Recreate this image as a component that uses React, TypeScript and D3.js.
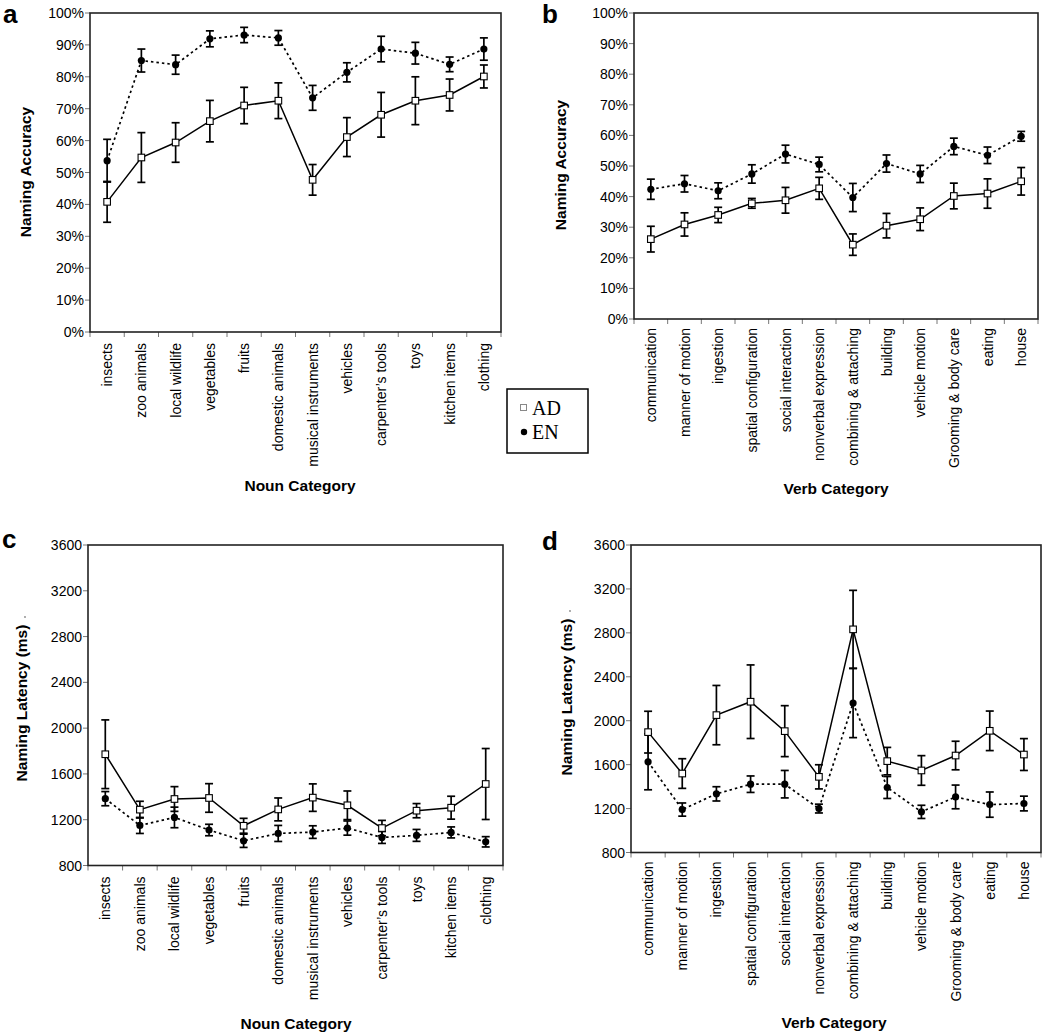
import React from "react";
import * as d3 from "d3";

const nounCats = ["insects", "zoo animals", "local wildlife", "vegetables", "fruits", "domestic animals", "musical instruments", "vehicles", "carpenter’s tools", "toys", "kitchen items", "clothing"];
const verbCats = ["communication", "manner of motion", "ingestion", "spatial configuration", "social interaction", "nonverbal expression", "combining & attaching", "building", "vehicle motion", "Grooming & body care", "eating", "house"];

const nounAccAD = [40.8, 54.7, 59.4, 66.1, 71.0, 72.5, 47.7, 61.1, 68.1, 72.5, 74.3, 80.1];
const nounAccADErr = [6.4, 7.8, 6.2, 6.5, 5.7, 5.6, 4.8, 6.1, 7.0, 7.5, 5.0, 3.6];
const nounAccEN = [53.7, 85.1, 83.8, 91.9, 93.1, 92.2, 73.4, 81.4, 88.7, 87.4, 83.9, 88.7];
const nounAccENErr = [6.7, 3.6, 3.0, 2.5, 2.4, 2.3, 3.9, 3.0, 4.0, 3.4, 2.3, 3.5];

const verbAccAD = [26.1, 30.9, 34.0, 37.8, 38.8, 42.7, 24.3, 30.5, 32.6, 40.2, 41.0, 45.0];
const verbAccADErr = [4.2, 3.8, 2.5, 1.6, 4.2, 3.6, 3.5, 4.0, 3.7, 4.2, 4.8, 4.5];
const verbAccEN = [42.4, 44.2, 41.9, 47.4, 53.9, 50.5, 39.7, 50.8, 47.4, 56.4, 53.5, 59.7];
const verbAccENErr = [3.3, 2.7, 2.6, 3.0, 2.9, 2.4, 4.6, 2.8, 2.8, 2.7, 2.7, 1.6];

const nounLatAD = [1772, 1288, 1381, 1390, 1147, 1290, 1393, 1326, 1127, 1279, 1305, 1512];
const nounLatADErr = [300, 73, 108, 125, 65, 100, 120, 125, 67, 62, 100, 310];
const nounLatEN = [1384, 1150, 1220, 1110, 1016, 1080, 1092, 1127, 1045, 1063, 1089, 1007];
const nounLatENErr = [62, 70, 90, 50, 58, 70, 55, 62, 52, 52, 48, 45];

const verbLatAD = [1896, 1519, 2051, 2173, 1905, 1489, 2832, 1632, 1547, 1683, 1908, 1692];
const verbLatADErr = [190, 135, 270, 335, 232, 110, 355, 125, 135, 130, 180, 145];
const verbLatEN = [1626, 1191, 1334, 1422, 1422, 1200, 2161, 1392, 1170, 1306, 1236, 1246];
const verbLatENErr = [255, 60, 65, 75, 125, 40, 315, 100, 60, 108, 115, 67];

const accTicks = [0, 10, 20, 30, 40, 50, 60, 70, 80, 90, 100];
const latTicks = [800, 1200, 1600, 2000, 2400, 2800, 3200, 3600];

const SANS = "'Liberation Sans', Arial, Helvetica, sans-serif";
const SERIF = "'Liberation Serif', 'Times New Roman', serif";

type PanelProps = {
  letter: string;
  letterX: number;
  letterY: number;
  x0: number; x1: number; y0: number; y1: number;
  cats: string[];
  ad: number[]; adErr: number[]; en: number[]; enErr: number[];
  ticks: number[];
  domain: [number, number];
  fmt: (v: number) => string;
  yTitle: string;
  yTitleX: number; yTitleY: number;
  xTitle: string;
  xTitleX: number; xTitleY: number;
  labelGap: number;
  titleDot?: boolean;
};

function Panel(p: PanelProps) {
  const x = d3.scaleBand<string>().domain(p.cats).range([p.x0, p.x1]);
  const y = d3.scaleLinear().domain(p.domain).range([p.y1, p.y0]);
  const cx = (i: number) => (x(p.cats[i]) as number) + x.bandwidth() / 2;
  const line = d3.line<number>().x((_, i) => cx(i)).y((v) => y(v));
  const bounds = p.cats.map((c) => x(c) as number).concat([p.x1]);
  const cap = 4;
  const errBars = (vals: number[], errs: number[], key: string) =>
    vals.map((v, i) => {
      const top = y(v + errs[i]);
      const bot = y(v - errs[i]);
      const c = cx(i);
      return (
        <g key={key + i} stroke="#000" strokeWidth={1.7}>
          <line x1={c} x2={c} y1={top} y2={bot} />
          <line x1={c - cap} x2={c + cap} y1={top} y2={top} />
          <line x1={c - cap} x2={c + cap} y1={bot} y2={bot} />
        </g>
      );
    });
  return (
    <g>
      <text x={p.letterX} y={p.letterY} fontFamily={SANS} fontWeight="bold" fontSize={26}>{p.letter}</text>
      {p.ticks.map((t) => (
        <g key={"yt" + t}>
          <line x1={p.x0 - 5} x2={p.x0} y1={y(t)} y2={y(t)} stroke="#777" strokeWidth={1} />
          <text x={p.x0 - 6} y={y(t)} textAnchor="end" dominantBaseline="central" fontFamily={SANS} fontSize={14}>{p.fmt(t)}</text>
        </g>
      ))}
      {bounds.map((b, i) => (
        <line key={"xt" + i} x1={b} x2={b} y1={p.y1} y2={p.y1 + 5} stroke="#777" strokeWidth={1} />
      ))}
      {p.cats.map((c, i) => (
        <text key={"xl" + i} transform={`translate(${cx(i)},${p.y1 + p.labelGap}) rotate(-90)`} textAnchor="end" dominantBaseline="central" fontFamily={SANS} fontSize={14}>{c}</text>
      ))}
      <rect x={p.x0} y={p.y0} width={p.x1 - p.x0} height={p.y1 - p.y0} fill="none" stroke="#222" strokeWidth={1.6} />
      <text transform={`translate(${p.yTitleX},${p.yTitleY}) rotate(-90)`} textAnchor="middle" dominantBaseline="central" fontFamily={SANS} fontWeight="bold" fontSize={15.5}>{p.yTitle}</text>
      {p.titleDot && <circle cx={p.yTitleX + 4} cy={p.yTitleY - 86} r={0.9} fill="#888" />}
      <text x={p.xTitleX} y={p.xTitleY} textAnchor="middle" dominantBaseline="central" fontFamily={SANS} fontWeight="bold" fontSize={15.5}>{p.xTitle}</text>
      <path d={line(p.en) || ""} fill="none" stroke="#000" strokeWidth={1.7} strokeDasharray="2.5,3" />
      <path d={line(p.ad) || ""} fill="none" stroke="#000" strokeWidth={1.5} />
      {errBars(p.en, p.enErr, "ee")}
      {errBars(p.ad, p.adErr, "ae")}
      {p.en.map((v, i) => (
        <circle key={"ed" + i} cx={cx(i)} cy={y(v)} r={3.6} fill="#000" />
      ))}
      {p.ad.map((v, i) => (
        <rect key={"ad" + i} x={cx(i) - 3.3} y={y(v) - 3.3} width={6.6} height={6.6} fill="#fff" stroke="#000" strokeWidth={1.1} />
      ))}
    </g>
  );
}

export default function App() {
  const pct = (v: number) => `${v}%`;
  const num = (v: number) => `${v}`;
  return (
    <svg width={1050} height={1032} style={{ position: "absolute", left: 0, top: 0, background: "#fff" }}>
      <rect x={0} y={0} width={1050} height={1032} fill="#fff" />
      <Panel letter="a" letterX={3} letterY={23} x0={90} x1={501} y0={13} y1={332}
        cats={nounCats} ad={nounAccAD} adErr={nounAccADErr} en={nounAccEN} enErr={nounAccENErr}
        ticks={accTicks} domain={[0, 100]} fmt={pct}
        yTitle="Naming Accuracy" yTitleX={25} yTitleY={172}
        xTitle="Noun Category" xTitleX={300} xTitleY={485} labelGap={11} />
      <Panel letter="b" letterX={542} letterY={23} x0={634} x1={1038} y0={13} y1={319}
        cats={verbCats} ad={verbAccAD} adErr={verbAccADErr} en={verbAccEN} enErr={verbAccENErr}
        ticks={accTicks} domain={[0, 100]} fmt={pct}
        yTitle="Naming Accuracy" yTitleX={560} yTitleY={165}
        xTitle="Verb Category" xTitleX={836} xTitleY={488} labelGap={9} />
      <Panel letter="c" letterX={2} letterY={548} x0={88} x1={503} y0={545} y1={865.5}
        cats={nounCats} ad={nounLatAD} adErr={nounLatADErr} en={nounLatEN} enErr={nounLatENErr}
        ticks={latTicks} domain={[800, 3600]} fmt={num}
        yTitle="Naming Latency (ms)" yTitleX={21} yTitleY={703}
        xTitle="Noun Category" xTitleX={296} xTitleY={1023} labelGap={11} titleDot />
      <Panel letter="d" letterX={542} letterY={550} x0={631} x1={1041} y0={545} y1={852.5}
        cats={verbCats} ad={verbLatAD} adErr={verbLatADErr} en={verbLatEN} enErr={verbLatENErr}
        ticks={latTicks} domain={[800, 3600]} fmt={num}
        yTitle="Naming Latency (ms)" yTitleX={566} yTitleY={697}
        xTitle="Verb Category" xTitleX={834} xTitleY={1022} labelGap={9} titleDot />
      <rect x={507} y={389} width={81} height={64} fill="#fff" stroke="#000" strokeWidth={1.5} />
      <rect x={520.5} y={404.5} width={6} height={6} fill="#fff" stroke="#888" strokeWidth={1} />
      <text x={532} y={415} fontFamily={SERIF} fontSize={20}>AD</text>
      <circle cx={524} cy={432} r={3.2} fill="#000" />
      <text x={532} y={438.5} fontFamily={SERIF} fontSize={20}>EN</text>
    </svg>
  );
}
